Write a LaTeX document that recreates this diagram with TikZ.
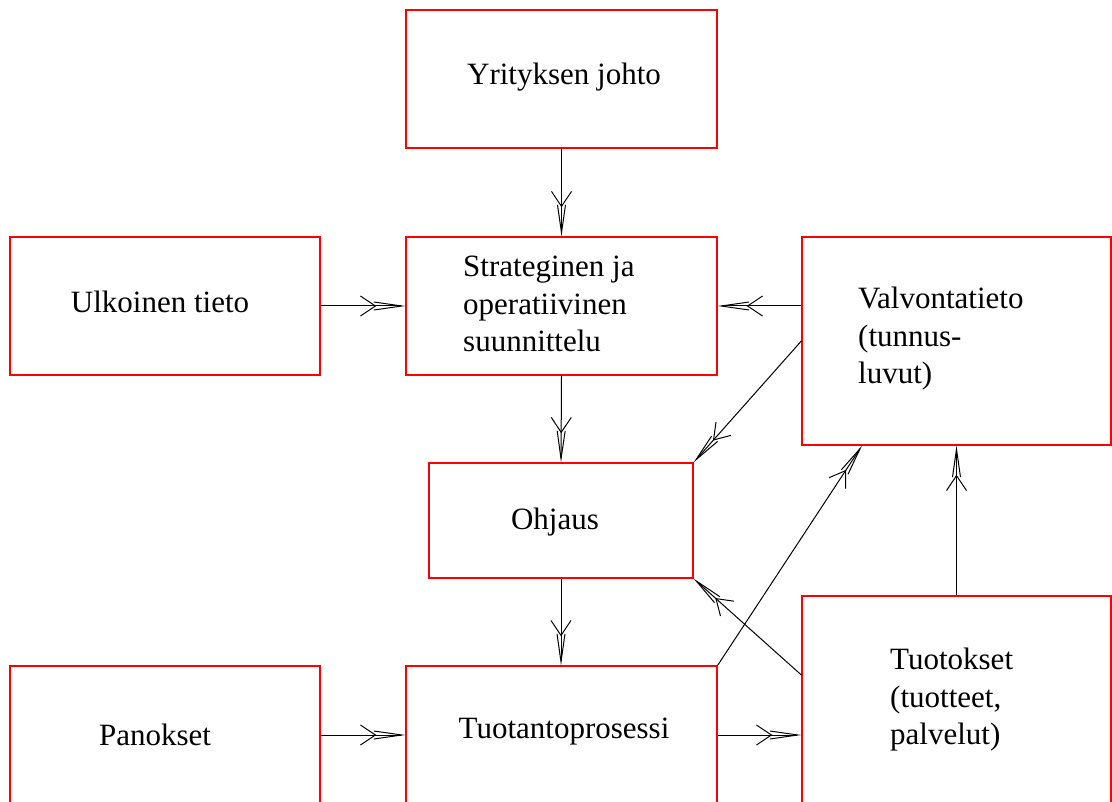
\documentclass[tikz,border=0pt]{standalone}
\usepackage{fontspec}
\setmainfont{Liberation Serif}
\usetikzlibrary{arrows.meta}
\begin{document}
\begin{tikzpicture}[x=1pt,y=-1pt,
  box/.style={draw=red, line width=1.3pt, inner sep=0pt},
  lbl/.style={font=\fontsize{31}{37.5}\selectfont, inner sep=0pt, align=left},
  conn/.style={draw=black, line width=1pt,
    -{Straight Barb[length=15pt,width=20pt,sep=-3pt] Straight Barb[length=28pt,width=8pt]}}]
\clip (0,0) rectangle (1112,802);
\fill[white] (0,0) rectangle (1112,802);
% boxes
\node[box, minimum width=311pt, minimum height=138pt] (yj) at (561.5,79) {};
\node[box, minimum width=310pt, minimum height=138pt] (ut) at (165,306) {};
\node[box, minimum width=311pt, minimum height=138pt] (st) at (561.5,306) {};
\node[box, minimum width=309pt, minimum height=208pt] (vt) at (956.5,341) {};
\node[box, minimum width=264pt, minimum height=115pt] (oh) at (561,520.5) {};
\node[box, minimum width=310pt, minimum height=146pt] (pa) at (165,739) {};
\node[box, minimum width=311pt, minimum height=146pt] (tp) at (561.5,739) {};
\node[box, minimum width=309pt, minimum height=216pt] (tu) at (956.5,704) {};
% labels
\node[lbl] (tyj) at (564,77) {Yrityksen johto};
\node[lbl] (tut) at (160,302) {Ulkoinen tieto};
\node[lbl, anchor=west] (tst) at (463,304) {Strateginen ja\\operatiivinen\\suunnittelu};
\node[lbl, anchor=west] (tvt) at (858,339) {Valvontatieto\\(tunnus-\\luvut)};
\node[lbl] (toh) at (555,522) {Ohjaus};
\node[lbl] (tpa) at (155,735) {Panokset};
\node[lbl] (ttp) at (564,732) {Tuotantoprosessi};
\node[lbl, anchor=west] (ttu) at (890,700) {Tuotokset\\(tuotteet,\\palvelut)};
% connectors
\coordinate (vtlow) at ([xshift=-94.5pt]vt.south);
\draw[conn] (yj.south) -- (st.north);
\draw[conn] (ut.east) -- (st.west);
\draw[conn] (vt.west |- st.east) -- (st.east);
\draw[conn] (vt.west) -- (oh.north east);
\draw[conn] (st.south) -- (oh.north);
\draw[conn] (oh.south) -- (oh.south |- tp.north);
\draw[conn] ([yshift=29pt]tu.west) -- (oh.south east);
\draw[conn] (tp.north east) -- (vtlow);
\draw[conn] ([yshift=4pt]pa.east) -- ([yshift=4pt]tp.west);
\draw[conn] ([yshift=4pt]tp.east) -- ([yshift=4pt]tp.east -| tu.west);
\draw[conn] (tu.north) -- (vt.south);
\end{tikzpicture}
\end{document}
